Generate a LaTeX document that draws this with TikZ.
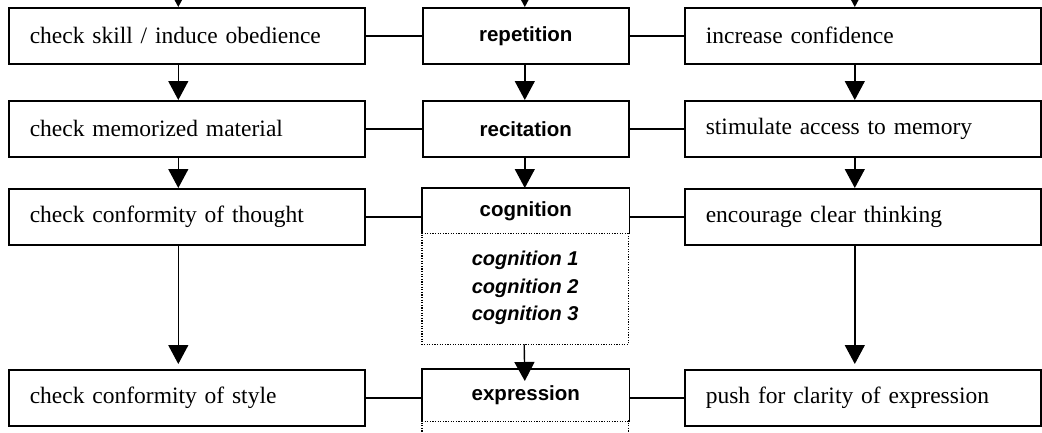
\documentclass[tikz,border=0pt]{standalone}
\usepackage{fontspec}
\setmainfont{Liberation Serif}
\newfontfamily\headfont{Liberation Sans}
\usetikzlibrary{arrows.meta}

\begin{document}
\begin{tikzpicture}[x=1pt, y=-1pt,
  sidebox/.style={draw, line width=1.6pt, minimum height=56pt, text width=314pt,
    inner xsep=21pt, inner ysep=0pt, align=left, anchor=north west,
    font=\fontsize{23.5}{28}\selectfont},
  midbox/.style={draw, line width=1.6pt, minimum width=206pt, minimum height=56pt,
    inner sep=0pt, anchor=north west, font=\headfont\bfseries\fontsize{20.5}{24}\selectfont},
  openbox/.style={midbox, draw=none},
  subbox/.style={minimum width=206pt, inner sep=0pt, anchor=north west, align=center,
    font=\headfont\bfseries\itshape\fontsize{20}{27.5}\selectfont},
  solidedge/.style={line width=1.6pt},
  dotedge/.style={line width=1.3pt, dash pattern=on 1.2pt off 1.4pt},
  link/.style={line width=1.6pt},
  flow/.style={line width=1.4pt, -{Triangle[length=19pt, width=20pt]}}
]
\useasboundingbox (0,0) rectangle (1042,432);
\fill[white] (0,0) rectangle (1042,432);
\clip (0,0) rectangle (1042,432);

% left column: what the teacher checks
\node[sidebox] (l1) at (8,7)   {check skill / induce obedience};
\node[sidebox] (l2) at (8,100) {check memorized material};
\node[sidebox] (l3) at (8,188) {check conformity of thought};
\node[sidebox] (l4) at (8,369) {check conformity of style};

% middle column: the stages
\node[midbox] (m1) at (422,7)   {repetition};
\node[midbox] (m2) at (422,100) {recitation};
\node[openbox, minimum height=44pt] (m3) at (422,188) {cognition};
\node[subbox, minimum height=112pt] (m3s) at (422,232)
  {cognition 1\\cognition 2\\cognition 3};
\node[openbox, minimum height=51pt] (m4) at (422,369) {expression};
\node[subbox, minimum height=80pt] (m4s) at (422,420) {};

% right column: what the learner gains
\node[sidebox] (r1) at (684,7)   {increase confidence};
\node[sidebox] (r2) at (684,100) {stimulate access to memory};
\node[sidebox] (r3) at (684,188) {encourage clear thinking};
\node[sidebox] (r4) at (684,369) {push for clarity of expression};

% header frames: solid above, dotted below the stage title
\draw[solidedge] (m3.south west) -- (m3.north west) -- (m3.north east) -- (m3.south east);
\draw[dotedge] (m3.south west) -- (m3.south east);
\draw[dotedge] (m3s.north west) -- (m3s.south west) -- (m3s.south east) -- (m3s.north east);
\draw[solidedge] (m4.south west) -- (m4.north west) -- (m4.north east) -- (m4.south east);
\draw[dotedge] (m4.south west) -- (m4.south east);
\draw[dotedge] (m4s.north west) -- (m4s.south west);
\draw[dotedge] (m4s.north east) -- (m4s.south east);

% horizontal links
\draw[link] (l1.east) -- (m1.west);
\draw[link] (m1.east) -- (r1.west);
\draw[link] (l2.east) -- (m2.west);
\draw[link] (m2.east) -- (r2.west);
\draw[link] (l3.east) -- (l3.east -| m3.west);
\draw[link] (r3.west -| m3.east) -- (r3.west);
\draw[link] (l4.east) -- (l4.east -| m4.west);
\draw[link] (r4.west -| m4.east) -- (r4.west);

% incoming flow from above
\coordinate (inL) at ([xshift=-8.5pt, yshift=40pt]l1.north);
\coordinate (inM) at ([xshift=-1pt, yshift=40pt]m1.north);
\coordinate (inR) at ([xshift=-8pt, yshift=40pt]r1.north);
\draw[flow] (inL) -- ([xshift=-8.5pt]l1.north);
\draw[flow] (inM) -- ([xshift=-1pt]m1.north);
\draw[flow] (inR) -- ([xshift=-8pt]r1.north);

% downward flow
\draw[flow] ([xshift=-8.5pt]l1.south) -- ([xshift=-8.5pt]l2.north);
\draw[flow] ([xshift=-8.5pt]l2.south) -- ([xshift=-8.5pt]l3.north);
\draw[flow] ([xshift=-8.5pt]l3.south) -- ([xshift=-8.5pt, yshift=5pt]l4.north);
\draw[flow] ([xshift=-1pt]m1.south) -- ([xshift=-1pt]m2.north);
\draw[flow] ([xshift=-1pt]m2.south) -- ([xshift=-1pt]m3.north);
\draw[flow] ([xshift=-1pt]m3s.south) -- ([xshift=-1pt, yshift=-12pt]m4.north);
\draw[flow] ([xshift=-8pt]r1.south) -- ([xshift=-8pt]r2.north);
\draw[flow] ([xshift=-8pt]r2.south) -- ([xshift=-8pt]r3.north);
\draw[flow] ([xshift=-8pt]r3.south) -- ([xshift=-8pt, yshift=5pt]r4.north);
\end{tikzpicture}
\end{document}
